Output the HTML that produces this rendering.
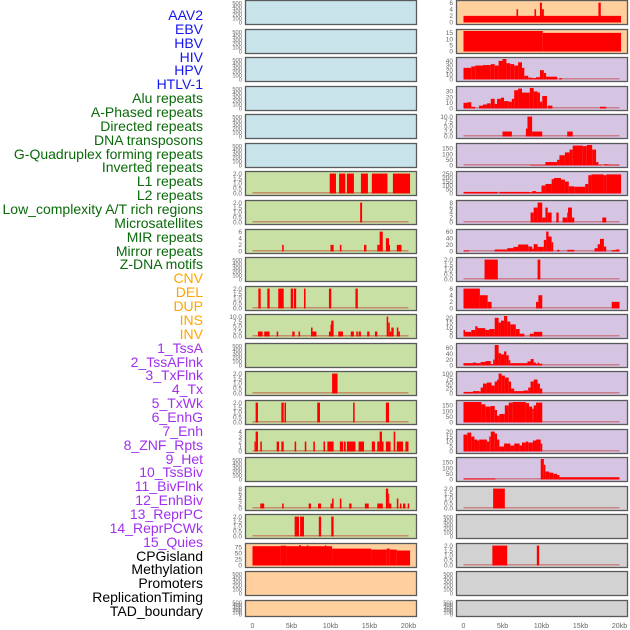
<!DOCTYPE html>
<html><head><meta charset="utf-8"><style>
body{margin:0;background:#fff;width:630px;height:630px;overflow:hidden;font-family:"Liberation Sans",sans-serif}
#lbls div{position:absolute;right:427px;font-size:14px;line-height:14px;white-space:nowrap}
</style></head><body>
<div id="lbls"></div>
<svg id="chart" width="630" height="630" style="position:absolute;left:0;top:0"></svg>
<script>
const labels = ["AAV2","EBV","HBV","HIV","HPV","HTLV-1","Alu repeats","A-Phased repeats","Directed repeats","DNA transposons","G-Quadruplex forming repeats","Inverted repeats","L1 repeats","L2 repeats","Low_complexity A/T rich regions","Microsatellites","MIR repeats","Mirror repeats","Z-DNA motifs","CNV","DEL","DUP","INS","INV","1_TssA","2_TssAFlnk","3_TxFlnk","4_Tx","5_TxWk","6_EnhG","7_Enh","8_ZNF_Rpts","9_Het","10_TssBiv","11_BivFlnk","12_EnhBiv","13_ReprPC","14_ReprPCWk","15_Quies","CPGisland","Methylation","Promoters","ReplicationTiming","TAD_boundary"];
const labelColors = ["#1515ee","#1515ee","#1515ee","#1515ee","#1515ee","#1515ee","#0a6a0a","#0a6a0a","#0a6a0a","#0a6a0a","#0a6a0a","#0a6a0a","#0a6a0a","#0a6a0a","#0a6a0a","#0a6a0a","#0a6a0a","#0a6a0a","#0a6a0a","#ffa500","#ffa500","#ffa500","#ffa500","#ffa500","#a030ee","#a030ee","#a030ee","#a030ee","#a030ee","#a030ee","#a030ee","#a030ee","#a030ee","#a030ee","#a030ee","#a030ee","#a030ee","#a030ee","#a030ee","#000","#000","#000","#000","#000"];
const xTicks = [0,5,10,15,20];
const xTickLabels = ["0","5kb","10kb","15kb","20kb"];
const E=[0,100,200,300,400,500], T2=[0,0.5,1,1.5,2], T6=[0,2,4,6], T8=[0,2,4,6,8], T10=[0,2.5,5,7.5,10];
const leftTicks = [E,E,E,E,E,E,T2,T2,T6,E,T2,T10,E,T2,T2,[0,1,2,3,4],E,T8,T2,[0,25,50,75],E,E];
const rightTicks = [T6,[0,5,10,15],[0,10,20,30,40],[0,10,20,30],T10,[0,50,100,150],[0,50,100,150,200,250],T8,[0,20,40,60],T2,T6,[0,5,10,15,20],[0,20,40,60],[0,25,50,75,100],[0,50,100,150],[0,5,10,15,20],[0,50,100,150],T2,E,T2,E,E];
const leftBg = ["#c8e3ea","#c8e3ea","#c8e3ea","#c8e3ea","#c8e3ea","#c8e3ea","#c8e0a4","#c8e0a4","#c8e0a4","#c8e0a4","#c8e0a4","#c8e0a4","#c8e0a4","#c8e0a4","#c8e0a4","#c8e0a4","#c8e0a4","#c8e0a4","#c8e0a4","#ffcf9e","#ffcf9e","#ffcf9e"];
const rightBg = ["#ffcf9e","#ffcf9e","#d6c5e2","#d6c5e2","#d6c5e2","#d6c5e2","#d6c5e2","#d6c5e2","#d6c5e2","#d6c5e2","#d6c5e2","#d6c5e2","#d6c5e2","#d6c5e2","#d6c5e2","#d6c5e2","#d6c5e2","#d2d2d2","#d2d2d2","#d2d2d2","#d2d2d2","#d2d2d2"];
// segments [startKb, endKb, value]
const L06=[[9.9,10.7,2],[11.1,11.9,2],[12.1,13,2],[13.9,14.8,2],[15.3,17.3,2],[18,20.2,2]];
const L07=[[13.8,14.05,2]];
const L08=[[3.8,4,2],[10,10.4,2],[11.2,11.4,2],[14.3,14.6,2],[16,16.3,2],[16.3,16.7,6],[17.1,17.5,4],[17.5,17.6,2],[18.5,19.1,2]];
const L10=[[0.75,1.05,2],[1.9,2.2,2],[3.3,4,2],[4.9,5.2,2],[5.3,5.6,2],[6.6,6.8,2],[9.8,10.1,2],[13.2,13.5,2]];
const L11=[[0.7,1.3,2.5],[1.5,2.2,2.5],[3.1,3.3,2.5],[5.1,5.4,2.5],[5.9,6.1,2.5],[7.5,7.7,4.5],[7.7,8.2,2.5],[9.8,10,2.5],[10,10.1,6],[10.1,10.4,8],[11,11.6,2.5],[12.6,13,2.5],[13.3,13.5,2.5],[13.6,13.9,2.5],[14.7,15,2.5],[15.7,16,2.5],[17.2,17.4,10],[17.4,17.6,7],[17.6,17.8,2.5],[17.8,18.1,4.5],[18.5,18.7,4.5],[18.7,18.9,2.5]];
const L13=[[10.2,10.9,2]];
const L14=[[0.4,0.7,2],[3.7,4,2],[4.1,4.3,2],[8.3,8.65,2],[12.9,13.1,2],[17.1,17.5,2]];
const L15=[[0.25,0.4,2],[0.4,0.7,4],[1,1.2,2],[3.1,3.4,2],[3.7,4,2],[5.4,5.6,2],[6.7,6.9,2],[7.8,8,2],[9.1,9.3,2],[9.6,10.4,2],[11.2,11.6,2],[11.7,11.95,2],[12.1,13.2,2],[13.6,14.3,2],[15.3,15.7,2],[16,16.3,2],[16.3,16.6,4],[16.6,16.8,2],[17.1,17.7,2],[18.1,18.3,4],[18.5,19.3,2],[19.6,20,2]];
const L17=[[1,1.5,2],[3.8,4,2],[7.2,7.5,2],[8.4,8.8,2],[10,10.2,2],[10.2,10.4,4],[11.2,11.4,4],[12.4,12.7,2],[14.4,14.9,2],[16,16.7,2],[17.1,17.4,8],[17.4,17.5,6],[17.5,17.8,2],[18.5,18.7,4],[18.9,19.1,2],[19.3,19.6,2],[19.9,20.1,2]];
const L18=[[5.4,5.96,2],[6.1,6.6,2],[8.5,8.8,2],[10.1,10.4,2]];
const L19=[[0,3.6,80],[3.6,4.3,82],[4.3,10.2,80],[6,6.2,85],[7,7.15,84],[9.3,9.45,84],[10.2,15.2,70],[15.2,17.2,66],[17.2,17.6,70],[17.6,18.5,66],[18.5,20.2,62]];
const R00=[[0,20.2,2],[6.8,7,4],[9.1,9.3,4],[9.8,10.05,6],[10.05,10.3,4],[17.3,17.6,6]];
const R01=[[0,10.15,16.5],[10.15,20.2,15]];
const R02=[[0,1,25],[1,1.5,28],[1.5,2.5,30],[2.5,3.5,31],[3.5,4,33],[4,4.5,30],[4.5,5,40],[5,5.5,44],[5.5,6,35],[6,6.5,33],[6.5,7,30],[7,7.5,37],[7.5,7.8,25],[7.8,8.3,8],[8.3,8.8,4],[8.8,9.3,3],[9.3,9.8,5],[9.8,10.3,20],[10.3,10.6,14],[10.6,12,6],[12.3,12.6,3]];
const R03=[[0,0.5,10],[0.5,1,11],[1,1.5,3],[2,2.5,5],[2.5,3,7],[3,3.5,9],[3.5,4,17],[4,4.3,8],[4.3,4.8,17],[4.8,5.2,19],[5.2,5.8,13],[5.8,6.2,12],[6.2,6.5,17],[6.5,7,32],[7,7.5,35],[7.5,8.5,28],[8.5,9,36],[9,9.5,30],[9.5,9.8,28],[9.8,10.1,12],[10.1,10.7,22],[10.8,11.4,5],[17.5,18.3,3]];
const R04=[[5,6.2,2.5],[8,8.2,4],[8.2,8.8,10],[8.8,10.1,2.5],[13.3,14,2.5]];
const R05=[[8.6,10.5,5],[10.5,12,30],[12,12.3,50],[12.3,13,90],[13,13.6,115],[13.6,14,140],[14,15.3,175],[15.3,15.8,170],[15.8,16.5,180],[16.5,17,140],[17,17.3,30],[17.3,17.8,5],[18,18.6,10],[18.6,20,5]];
const R06=[[0,4.4,20],[4.6,8.5,20],[8.5,8.8,15],[8.8,9.3,30],[9.3,10,20],[10,10.5,100],[10.5,11.3,120],[11.3,11.6,180],[11.6,12.5,195],[12.5,13,175],[13,13.5,150],[13.5,14.2,90],[14.2,15.6,85],[15.6,16,120],[16,16.4,230],[16.4,18,240],[18,18.3,230],[18.3,20.2,240]];
const R07=[[8.6,9,4],[9,9.5,6],[9.5,10.1,8],[10.1,10.5,2],[10.5,10.8,6],[10.8,11.3,4],[11.9,12.2,4],[12.7,13.3,2],[13.3,13.4,4],[13.4,13.9,6],[13.9,14.2,2],[17.8,18.3,2]];
const R08=[[0,0.7,3],[4,5.6,6],[5.6,6.4,10],[6.4,7,14],[7,8.3,21],[8.3,8.8,15],[8.8,9,8],[9,9.5,22],[9.5,10.3,14],[10.3,10.6,35],[10.6,10.9,60],[10.9,11.3,45],[11.3,11.5,28],[12,12.3,5],[13.3,14.2,5],[16.8,17.2,10],[17.2,17.5,22],[17.5,18,38],[18,18.3,15],[19,19.5,4],[19.5,20,6]];
const R09=[[2.7,4.4,2],[9.5,9.85,2]];
const R10=[[0,2.1,6],[2.1,3.1,4],[3.1,3.6,2],[9.3,9.6,2],[9.6,10.1,4],[19,20,2]];
const R11=[[0,0.2,7],[0.2,1,5],[1,1.5,7],[1.5,1.8,11],[1.8,2.8,9],[2.8,3.3,7],[3.3,4,8],[4,4.5,20],[4.5,4.8,15],[4.8,5.2,17],[5.2,5.6,22],[5.6,6,16],[6,6.7,13],[6.7,7.2,8],[7.2,7.8,3],[8.5,9,3],[9,10.1,5]];
const R12=[[0,1.2,8],[1.2,1.6,10],[1.6,2.2,8],[2.2,2.8,12],[2.8,3.5,15],[3.5,3.8,5],[3.8,4,20],[4,4.5,70],[4.5,4.8,42],[4.8,5.2,38],[5.2,5.5,48],[5.5,5.8,35],[5.8,6,18],[6,8.2,8],[8.2,8.6,14],[8.6,9,22],[9,9.3,10],[9.3,9.5,6],[9.5,9.7,10],[9.7,10.1,6]];
const R13=[[0,1.2,8],[1.2,2,12],[2,2.2,10],[2.2,2.5,30],[2.5,3,50],[3,3.6,55],[3.6,4,40],[4,4.3,60],[4.3,4.5,70],[4.5,4.9,100],[4.9,5.3,90],[5.3,5.8,80],[5.8,6.1,60],[6.1,6.5,25],[6.5,7.7,12],[7.7,8.3,15],[8.3,8.6,30],[8.6,9,60],[9,9.5,70],[9.5,9.8,50],[9.8,10.1,25]];
const R14=[[0,2.3,180],[2.3,2.8,160],[2.8,3.5,140],[3.5,4,145],[4,4.3,110],[4.3,4.6,60],[4.6,5.3,75],[5.3,5.8,150],[5.8,6.3,175],[6.3,8,180],[8,8.4,170],[8.4,8.8,140],[8.8,9,120],[9,9.3,150],[9.3,10.1,175]];
const R15=[[0,0.5,17],[0.5,1,19],[1,1.4,15],[1.4,1.8,12],[1.8,2,11],[2,3,12],[3,3.3,10],[3.3,3.5,15],[3.5,4,20],[4,4.3,18],[4.3,4.6,12],[4.6,5.2,5],[5.2,6,8],[6,6.5,6],[6.5,7.2,8],[7.2,7.5,6],[7.5,8,9],[8,8.3,10],[8.3,8.9,9],[8.9,9.3,11],[9.3,9.9,12],[9.9,10.1,8]];
const R16=[[0,4.1,8],[9.9,10.3,180],[10.3,10.5,130],[10.5,11,70],[11,11.5,60],[11.5,12,50],[12,12.3,40],[12.3,20,20]];
const R17=[[3.8,5.3,2]];
const R19=[[3.7,5.6,2],[9.4,9.7,2]];
const leftSegs=[null,null,null,null,null,null,L06,L07,L08,null,L10,L11,null,L13,L14,L15,null,L17,L18,L19,null,null];
const rightSegs=[R00,R01,R02,R03,R04,R05,R06,R07,R08,R09,R10,R11,R12,R13,R14,R15,R16,R17,null,R19,null,null];

const NS="http://www.w3.org/2000/svg";
const svg=document.getElementById('chart');
function mk(tag,attrs,parent){const e=document.createElementNS(NS,tag);for(const k in attrs)e.setAttribute(k,attrs[k]);(parent||svg).appendChild(e);return e;}
// labels
const lb=document.getElementById('lbls');
labels.forEach((t,i)=>{const d=document.createElement('div');d.textContent=t;d.style.top=(8+i*13.86)+'px';d.style.color=labelColors[i];


lb.appendChild(d);});
function fmt(v,ticks){const dec=ticks.some(t=>t%1!==0);return dec?v.toFixed(1):String(v);}
function panel(col,row){
  const px=col===0?245:456, pw=171;
  const top=Math.round(row*28.57), h=row===21?16:24;
  const ticks=col===0?leftTicks[row]:rightTicks[row];
  const segs=col===0?leftSegs[row]:rightSegs[row];
  const bg=col===0?leftBg[row]:rightBg[row];
  const g=mk('g',{});
  
  
  mk('rect',{x:px+0.5,y:top+0.5,width:pw,height:h,fill:bg,stroke:'#5a5a5a','stroke-width':1.3},g);
  const x0=px+7.5, kb=7.8;
  const xs=v=>x0+v*kb;
  const yb=top+h-1.5, yt=top+2;
  let dmax=ticks[ticks.length-1]*1.03;
  if(segs)segs.forEach(s=>{if(s[2]>dmax)dmax=s[2];});
  const ys=v=>yb-(v/dmax)*(yb-yt);
  ticks.forEach(t=>{const tx=mk('text',{x:px-3,y:ys(t)+2.2,'font-size':segs?6.5:5.8,fill:'#666','text-anchor':'end','font-family':'Liberation Sans, sans-serif'},g);tx.textContent=fmt(t,ticks);
    
    });
  if(segs){
    const bl=mk('rect',{x:xs(0),y:yb-1.5,width:20*kb,height:1.5,fill:'rgba(190,40,40,0.45)'},g);
    
    
    segs.forEach(s=>{const r=mk('rect',{x:xs(s[0]),y:ys(s[2]),width:Math.max(1,xs(s[1])-xs(s[0])),height:yb-ys(s[2]),fill:'#ff0000'},g);
      
      });
  }
}
for(let r=0;r<22;r++){panel(0,r);panel(1,r);}
[0,1].forEach(col=>{const x0=(col===0?245:456)+7.5;xTicks.forEach((t,i)=>{const tx=mk('text',{x:x0+t*7.8,y:628,'font-size':7,fill:'#666','text-anchor':'middle','font-family':'Liberation Sans, sans-serif'});tx.textContent=xTickLabels[i];
  
  });});
</script>
</body></html>
